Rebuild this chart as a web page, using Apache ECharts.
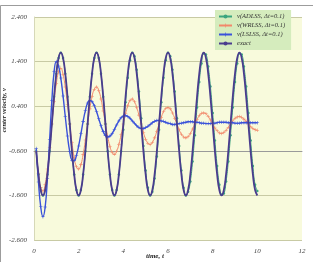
<!DOCTYPE html>
<html>
<head>
<meta charset="utf-8">
<script src="https://cdn.jsdelivr.net/npm/echarts@6/dist/echarts.min.js"></script>
<style>
html,body{margin:0;padding:0;background:#fff;}
#chart{width:313px;height:262px;}
</style>
</head>
<body>
<div id="chart"></div>
<script>
// time values (s)
const T = [0.1,0.2,0.3,0.4,0.5,0.6,0.7,0.8,0.9,1.0,
1.1,1.2,1.3,1.4,1.5,1.6,1.7,1.8,1.9,2.0,
2.1,2.2,2.3,2.4,2.5,2.6,2.7,2.8,2.9,3.0,
3.1,3.2,3.3,3.4,3.5,3.6,3.7,3.8,3.9,4.0,
4.1,4.2,4.3,4.4,4.5,4.6,4.7,4.8,4.9,5.0,
5.1,5.2,5.3,5.4,5.5,5.6,5.7,5.8,5.9,6.0,
6.1,6.2,6.3,6.4,6.5,6.6,6.7,6.8,6.9,7.0,
7.1,7.2,7.3,7.4,7.5,7.6,7.7,7.8,7.9,8.0,
8.1,8.2,8.3,8.4,8.5,8.6,8.7,8.8,8.9,9.0,
9.1,9.2,9.3,9.4,9.5,9.6,9.7,9.8,9.9,10.0];

const ADLSS = [-0.61,-1.13,-1.48,
-1.60,-1.48,-1.13,-0.61,0,0.61,1.13,1.48,1.60,1.48,1.13,0.61,0,-0.61,-1.13,-1.48,
-1.60,-1.48,-1.13,-0.61,0,0.61,1.13,1.48,1.60,1.48,1.13,0.61,0,-0.61,-1.13,-1.48,
-1.60,-1.48,-1.13,-0.61,
-0.13,0.49,1.04,1.43,1.60,1.52,1.22,0.73,0.13,-0.49,-1.04,-1.43,
-1.60,-1.52,-1.22,-0.73,-0.13,0.49,1.04,1.43,1.60,1.52,1.22,0.73,0.13,-0.49,-1.04,-1.43,
-1.60,-1.52,
-1.29,-0.84,-0.25,0.37,0.94,1.36,1.58,1.56,1.29,0.84,0.25,-0.37,-0.94,-1.36,
-1.58,-1.56,-1.29,-0.84,-0.25,0.37,0.94,1.36,1.58,1.56,1.29,0.84,0.25,-0.37,-0.94,-1.36,
-1.50];

const WRLSS = [-0.62,-1.11,-1.42,-1.50,-1.35,-1.01,-0.53,0.00,0.51,0.91,
1.17,1.25,1.11,0.83,0.44,0.00,-0.42,-0.75,-0.96,-1.01,
-0.91,-0.68,-0.36,0.00,0.34,0.62,0.78,0.83,0.75,0.56,
0.29,0.00,-0.28,-0.50,-0.64,-0.68,-0.61,-0.46,-0.24,0.00,
0.23,0.41,0.53,0.56,0.50,0.37,0.20,0.00,-0.19,-0.34,
-0.43,-0.46,-0.41,-0.31,-0.16,0.00,0.15,0.28,0.35,0.37,
0.34,0.25,0.13,0.00,-0.13,-0.23,-0.29,-0.31,-0.28,-0.21,
-0.11,0.00,0.10,0.19,0.24,0.25,0.23,0.17,0.09,0.00,
-0.09,-0.15,-0.20,-0.21,-0.19,-0.14,-0.07,0.00,0.07,0.13,
0.16,0.17,0.15,0.11,0.06,0.00,-0.06,-0.10,-0.13,-0.14];

const LSLSS = [-0.55,-1.30,-1.85,-2.08,-1.86,-1.22,-0.35,0.53,1.17,1.40,
1.30,1.03,0.63,0.17,-0.27,-0.62,-0.81,-0.82,-0.70,-0.49,
-0.22,0.06,0.30,0.47,0.53,0.50,0.41,0.28,0.12,-0.04,
-0.17,-0.26,-0.29,-0.27,-0.21,-0.12,-0.02,0.07,0.14,0.18,
0.19,0.17,0.13,0.07,0.02,-0.04,-0.08,-0.10,-0.10,-0.08,
-0.05,-0.01,0.03,0.06,0.08,0.08,0.07,0.06,0.04,0.02,
0.01,-0.01,-0.01,0.00,0.01,0.02,0.03,0.04,0.05,0.05,
0.05,0.04,0.04,0.03,0.02,0.02,0.01,0.01,0.01,0.02,
0.02,0.03,0.04,0.04,0.04,0.04,0.03,0.03,0.03,0.02,
0.02,0.02,0.03,0.03,0.03,0.03,0.03,0.03,0.03,0.03];

const EXACT = [-0.61,-1.13,-1.48,
-1.60,-1.48,-1.13,-0.61,0,0.61,1.13,1.48,1.60,1.48,1.13,0.61,0,-0.61,-1.13,-1.48,
-1.60,-1.48,-1.13,-0.61,0,0.61,1.13,1.48,1.60,1.48,1.13,0.61,0,-0.61,-1.13,-1.48,
-1.60,-1.48,-1.13,-0.61,0,0.61,1.13,1.48,1.60,1.48,1.13,0.61,0,-0.61,-1.13,-1.48,
-1.60,-1.48,-1.13,-0.61,0,0.61,1.13,1.48,1.60,1.48,1.13,0.61,0,-0.61,-1.13,-1.48,
-1.60,-1.48,-1.13,-0.61,0,0.61,1.13,1.48,1.60,1.48,1.13,0.61,0,-0.61,-1.13,-1.48,
-1.60,-1.48,-1.13,-0.61,0,0.61,1.13,1.48,1.60,1.48,1.13,0.61,0,-0.61,-1.13,-1.48,
-1.60];

const SERIES_NAMES = ['v(ADLSS, \u0394t=0.1)','v(WRLSS, \u0394t=0.1)','v(LSLSS, \u0394t=0.1)','exact'];
const Y_TICK_LABELS = ['-2.600','-1.600','-0.600','0.400','1.400','2.400'];
const X_TICK_LABELS = ['0','2','4','6','8','10','12'];

// y axis ticks sit at -2.6 + k; the axis runs in units offset by 0.6 so ticks are whole numbers
const Y_SHIFT = 0.6;
const pts = arr => T.map((t, i) => [t, arr[i] + Y_SHIFT]);

const FONT = 'Liberation Serif';
const PLUS = 'path://M3.4,0H4.6V8H3.4ZM0,3.4H8V4.6H0Z';

const chart = echarts.init(document.getElementById('chart'), null, {renderer: 'canvas'});
chart.setOption({
  animation: false,
  backgroundColor: '#ffffff',
  grid: {left: 34, right: 11, top: 17, bottom: 22, show: true, backgroundColor: '#f8fadc', borderWidth: 0},
  xAxis: {
    type: 'value', min: 0, max: 12, interval: 2,
    axisLine: {show: true, lineStyle: {color: '#9a9a9a', width: 1}},
    axisTick: {show: false},
    splitLine: {show: false},
    axisLabel: {
      margin: 8, fontFamily: FONT, fontStyle: 'italic', fontSize: 7, color: '#444',
      formatter: v => X_TICK_LABELS[Math.round(v / 2)]
    }
  },
  yAxis: {
    type: 'value', min: -2, max: 3, interval: 1,
    axisLine: {show: true, lineStyle: {color: '#d6d8b8', width: 1}},
    axisTick: {show: false},
    splitLine: {show: true, lineStyle: {color: '#c8caa4', width: 1}},
    axisLabel: {
      margin: 7, fontFamily: FONT, fontStyle: 'italic', fontSize: 7, color: '#444',
      formatter: v => Y_TICK_LABELS[Math.round(v + 2)]
    }
  },
  legend: {
    orient: 'vertical', left: 215, top: 10,
    itemWidth: 13, itemHeight: 5, itemGap: 2,
    padding: [3, 6, 3, 3],
    backgroundColor: '#d5ecbd',
    textStyle: {fontFamily: FONT, fontStyle: 'italic', fontSize: 6.5, color: '#333', lineHeight: 7},
    data: SERIES_NAMES
  },
  series: [
    {
      name: SERIES_NAMES[0], type: 'line', data: pts(ADLSS), smooth: true,
      symbol: 'circle', symbolSize: 2.5, showSymbol: true,
      lineStyle: {color: '#3aa57e', width: 1}, itemStyle: {color: '#3aa57e'}, z: 2
    },
    {
      name: SERIES_NAMES[1], type: 'line', data: pts(WRLSS), smooth: true,
      symbol: PLUS, symbolSize: 3.5, showSymbol: true,
      lineStyle: {color: '#f2886a', width: 1}, itemStyle: {color: '#f2886a'}, z: 3
    },
    {
      name: SERIES_NAMES[2], type: 'line', data: pts(LSLSS), smooth: true,
      symbol: PLUS, symbolSize: 3.5, showSymbol: true,
      lineStyle: {color: '#3a52da', width: 1.4}, itemStyle: {color: '#3a52da'}, z: 4
    },
    {
      name: SERIES_NAMES[3], type: 'line', data: pts(EXACT), smooth: true,
      symbol: 'none', showSymbol: false,
      lineStyle: {color: '#4a3c8e', width: 1.8}, itemStyle: {color: '#4a3c8e'}, z: 5
    }
  ],
  graphic: [
    {type: 'rect', left: -2, top: 3, shape: {width: 313, height: 270},
     style: {fill: 'none', stroke: '#9c9c9c', lineWidth: 1}, silent: true, z: -1},
    {type: 'text', left: 146, top: 253,
     style: {text: 'time, t', fontFamily: FONT, fontStyle: 'italic', fontWeight: 'bold', fontSize: 7, fill: '#222'}},
    {type: 'text', left: 1, top: 88, rotation: Math.PI / 2,
     style: {text: 'center velocity, v', fontFamily: FONT, fontStyle: 'italic', fontWeight: 'bold', fontSize: 6.5, fill: '#222'}}
  ]
});
</script>
</body>
</html>
